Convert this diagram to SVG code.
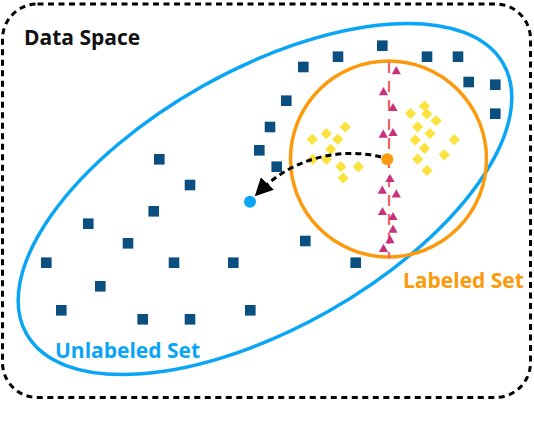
<svg xmlns="http://www.w3.org/2000/svg" xmlns:xlink="http://www.w3.org/1999/xlink" width="534" height="434" viewBox="0 0 534 434">
<style>
.lbl{font-family:"Open Sans","Noto Sans","Liberation Sans",sans-serif;font-weight:bold;font-size:21px}
.sq{fill:#0b4f80}
.tri{fill:#c8327c}
.dia{fill:#fbe23c}
</style>
<defs>
<rect id="sq" x="-5.3" y="-5.3" width="10.6" height="10.6"/>
<path id="tri" d="M0,-4.6 L4.6,3.6 L-4.6,3.6Z"/>
<path id="dia" d="M0,-5.6 L5.6,0 L0,5.6 L-5.6,0Z"/>
<marker id="arr" markerWidth="6" markerHeight="6" refX="4" refY="3" orient="auto" markerUnits="strokeWidth" viewBox="0 0 6 6">
<path d="M0,0 L6,3 L0,6 Z" fill="#000"/>
</marker>
</defs>
<rect width="534" height="434" fill="#fff"/>
<g id="data-space">
<rect x="2.5" y="4" width="528" height="393.5" rx="35" ry="35" fill="none" stroke="#000" stroke-width="3" stroke-dasharray="6 4.5"/>
<text class="lbl" x="24" y="45" fill="#111">Data Space</text>
</g>
<g id="unlabeled-set">
<ellipse cx="265" cy="199" rx="274" ry="129" transform="rotate(-29.5 265 199)" fill="none" stroke="#0aa5f5" stroke-width="3.5"/>
<text class="lbl" x="55" y="358" fill="#0aa5f5">Unlabeled Set</text>
</g>
<g id="labeled-set">
<circle cx="388.5" cy="159" r="98" fill="none" stroke="#fc9a0e" stroke-width="3.5"/>
<text class="lbl" x="403" y="288" fill="#fc9a0e">Labeled Set</text>
</g>
<g id="boundary">
<line x1="389" y1="62" x2="389" y2="258" stroke="#f56262" stroke-width="2.2" stroke-dasharray="11 8"/>
</g>
<g id="unlabeled-points" class="sq">
<use xlink:href="#sq" x="382.3" y="45.7"/>
<use xlink:href="#sq" x="338" y="56.7"/>
<use xlink:href="#sq" x="427" y="56.7"/>
<use xlink:href="#sq" x="458" y="56.7"/>
<use xlink:href="#sq" x="303.3" y="67"/>
<use xlink:href="#sq" x="468.7" y="82"/>
<use xlink:href="#sq" x="495.3" y="84.7"/>
<use xlink:href="#sq" x="286.3" y="100.7"/>
<use xlink:href="#sq" x="495.3" y="113.7"/>
<use xlink:href="#sq" x="270" y="127"/>
<use xlink:href="#sq" x="259.3" y="150.3"/>
<use xlink:href="#sq" x="276.7" y="166.7"/>
<use xlink:href="#sq" x="159.3" y="159.3"/>
<use xlink:href="#sq" x="190" y="185"/>
<use xlink:href="#sq" x="153.7" y="211.3"/>
<use xlink:href="#sq" x="88.3" y="223.7"/>
<use xlink:href="#sq" x="128" y="243.3"/>
<use xlink:href="#sq" x="46.3" y="262.7"/>
<use xlink:href="#sq" x="174" y="262.7"/>
<use xlink:href="#sq" x="233.3" y="262.7"/>
<use xlink:href="#sq" x="305.3" y="241"/>
<use xlink:href="#sq" x="355.7" y="262.7"/>
<use xlink:href="#sq" x="100.3" y="286.3"/>
<use xlink:href="#sq" x="61.3" y="310.3"/>
<use xlink:href="#sq" x="142.7" y="319.3"/>
<use xlink:href="#sq" x="190" y="319.3"/>
<use xlink:href="#sq" x="250.3" y="310.3"/>
</g>
<g id="class-a" class="tri">
<use xlink:href="#tri" x="396.3" y="70.7"/>
<use xlink:href="#tri" x="383.5" y="91.7"/>
<use xlink:href="#tri" x="393" y="107.5"/>
<use xlink:href="#tri" x="383.3" y="134.2"/>
<use xlink:href="#tri" x="393" y="132.5"/>
<use xlink:href="#tri" x="390" y="178.5"/>
<use xlink:href="#tri" x="382.3" y="190.2"/>
<use xlink:href="#tri" x="396.3" y="193.8"/>
<use xlink:href="#tri" x="382.5" y="211.5"/>
<use xlink:href="#tri" x="393" y="216.5"/>
<use xlink:href="#tri" x="393" y="229.2"/>
<use xlink:href="#tri" x="390" y="239.7"/>
<use xlink:href="#tri" x="383.5" y="248.3"/>
</g>
<g id="class-b" class="dia">
<use xlink:href="#dia" x="312.3" y="139.3"/>
<use xlink:href="#dia" x="326.3" y="133.7"/>
<use xlink:href="#dia" x="345.3" y="127"/>
<use xlink:href="#dia" x="337.8" y="139.3"/>
<use xlink:href="#dia" x="330.7" y="149.3"/>
<use xlink:href="#dia" x="312.7" y="159.3"/>
<use xlink:href="#dia" x="326.5" y="159.3"/>
<use xlink:href="#dia" x="340.8" y="166.7"/>
<use xlink:href="#dia" x="358.3" y="166.7"/>
<use xlink:href="#dia" x="343.2" y="178"/>
<use xlink:href="#dia" x="424.5" y="106"/>
<use xlink:href="#dia" x="410.5" y="113.5"/>
<use xlink:href="#dia" x="426.8" y="114"/>
<use xlink:href="#dia" x="436.2" y="120.7"/>
<use xlink:href="#dia" x="417.7" y="126.8"/>
<use xlink:href="#dia" x="430" y="133.5"/>
<use xlink:href="#dia" x="415.3" y="140"/>
<use xlink:href="#dia" x="454.3" y="139.7"/>
<use xlink:href="#dia" x="424.5" y="148.3"/>
<use xlink:href="#dia" x="444.3" y="154.8"/>
<use xlink:href="#dia" x="417.7" y="159.2"/>
<use xlink:href="#dia" x="427" y="170.5"/>
</g>
<g id="connectors">
<path d="M381,157 C345,148 295,155 259,192" fill="none" stroke="#000" stroke-width="3" stroke-dasharray="6 4" marker-end="url(#arr)"/>
</g>
<g id="labeled-sample">
<circle cx="387.3" cy="159.3" r="6" fill="#fc9a0e"/>
</g>
<g id="query-sample">
<circle cx="250" cy="201.7" r="6" fill="#0aa5f5"/>
</g>
</svg>
